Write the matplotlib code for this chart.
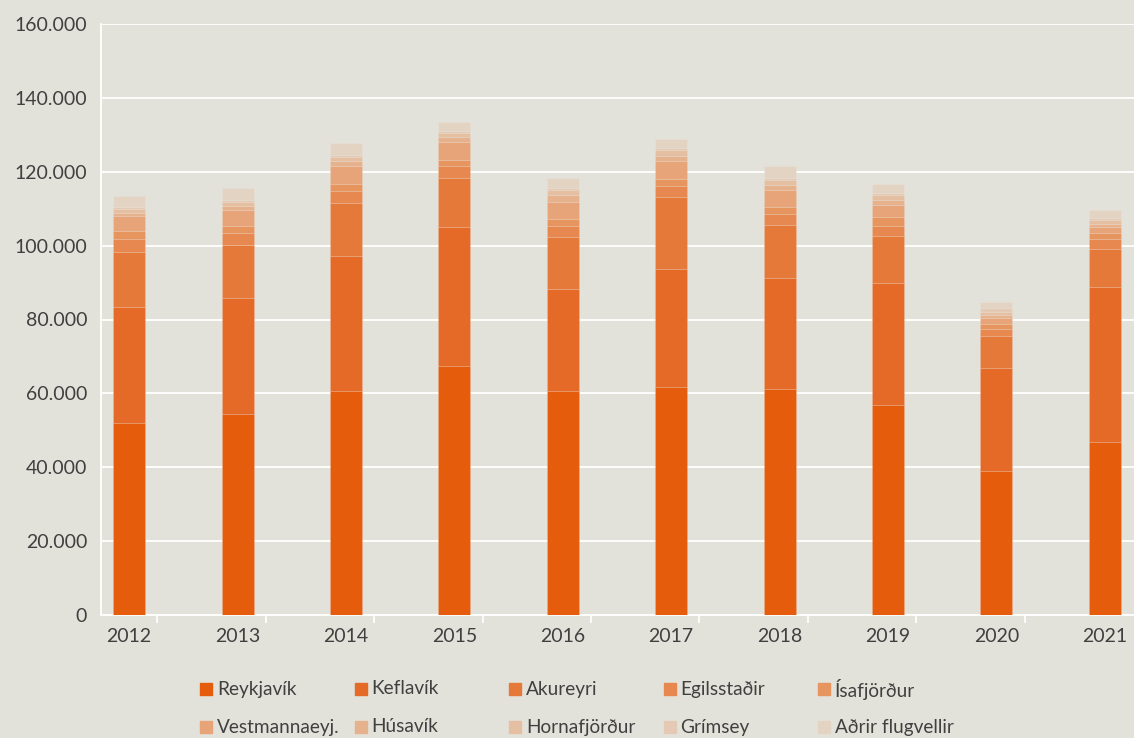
import matplotlib.pyplot as plt
import numpy as np
from matplotlib.patches import Rectangle
from matplotlib.ticker import FuncFormatter


YEARS = ["2012", "2013", "2014", "2015", "2016", "2017", "2018", "2019", "2020", "2021"]

AIRPORTS = [
    "Reykjavík", "Keflavík", "Akureyri", "Egilsstaðir", "Ísafjörður",
    "Vestmannaeyj.", "Húsavík", "Hornafjörður", "Grímsey", "Aðrir flugvellir",
]

reykjavik = [52000, 54400, 60600, 67400, 60600, 61700, 61200, 56800, 39000, 46800]
keflavik = [31500, 31300, 36600, 37600, 27700, 31900, 29900, 33000, 28000, 41900]
akureyri = [14900, 14600, 14400, 13400, 14100, 19600, 14500, 12900, 8500, 10400]
egilsstadir = [3400, 3200, 3200, 3100, 3000, 3000, 3000, 2700, 1900, 2700]
isafjordur = [2200, 1900, 1900, 1700, 1900, 1800, 1800, 2300, 1400, 1700]
vestmannaeyjar = [4100, 4200, 4900, 4900, 4600, 4900, 4700, 3300, 1500, 1500]
husavik = [800, 1100, 1300, 1200, 1800, 1400, 1300, 1300, 900, 800]
hornafjordur = [1100, 1100, 1000, 1300, 1400, 1600, 1400, 1400, 900, 1100]
grimsey = [500, 500, 600, 500, 500, 500, 500, 500, 900, 500]
adrir = [3000, 3300, 3200, 2400, 2800, 2600, 3200, 2500, 1800, 2200]

SERIES = [reykjavik, keflavik, akureyri, egilsstadir, isafjordur,
          vestmannaeyjar, husavik, hornafjordur, grimsey, adrir]

COLORS = [
    "#e55c0c", "#e56a28", "#e5793a", "#e6884f", "#e6955f",
    "#e6a478", "#e6b28d", "#e5bfa2", "#e4c9b4", "#e3d3c3",
]

BG = "#e3e2da"
TEXT = "#404040"

plt.rcParams["font.family"] = ["Lato", "DejaVu Sans"]

fig = plt.figure(figsize=(11.34, 7.38), dpi=100, facecolor=BG)
ax = fig.add_axes([101 / 1134, 123 / 738, 1 - 101 / 1134, 591 / 738])
ax.set_facecolor(BG)

x = np.arange(len(YEARS))
bottom = np.zeros(len(YEARS))
for name, values, color in zip(AIRPORTS, SERIES, COLORS):
    ax.bar(x, values, width=0.295, bottom=bottom, color=color, label=name,
           edgecolor=(1, 1, 1, 0.12), linewidth=0.6, zorder=3)
    bottom += np.array(values)

ax.set_xlim(-0.26, 9.27)
ax.set_ylim(0, 160000)
ax.set_yticks(np.arange(0, 160001, 20000))
ax.yaxis.set_major_formatter(FuncFormatter(lambda v, _: f"{int(v):,}".replace(",", ".")))
ax.grid(axis="y", color="white", linewidth=1.3, zorder=0)
ax.set_xticks(x, YEARS)
ax.set_xticks(x[:-1] + 0.26, minor=True)
ax.tick_params(axis="x", which="major", length=0, pad=9, labelsize=14, labelcolor=TEXT)
ax.tick_params(axis="x", which="minor", length=6, color="white", width=1.2)
ax.tick_params(axis="y", length=0, pad=10, labelsize=14, labelcolor=TEXT)
for side in ["top", "right"]:
    ax.spines[side].set_visible(False)
for side in ["left", "bottom"]:
    ax.spines[side].set_color("white")
    ax.spines[side].set_linewidth(1.3)

# legend drawn by hand: Excel uses equal column widths
W, H = 1134, 738
for i, (name, color) in enumerate(zip(AIRPORTS, COLORS)):
    row, col = divmod(i, 5)
    mx = 200 + col * 154.5
    my = H - (689 + row * 38)
    fig.patches.append(Rectangle((mx / W, (my - 6) / H), 12 / W, 12 / H,
                                 transform=fig.transFigure, color=color))
    fig.text((mx + 17) / W, my / H, name, fontsize=13.7, color=TEXT,
             va="center", ha="left")

fig.savefig("out.png", dpi=100, facecolor=BG)
